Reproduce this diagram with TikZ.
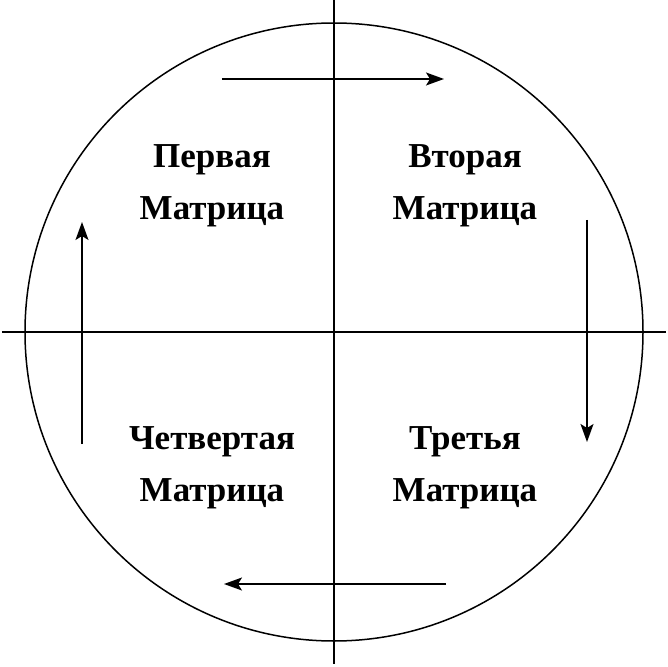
\documentclass[tikz,border=0pt]{standalone}
\usepackage{fontspec}
\setmainfont{Liberation Serif}
\usetikzlibrary{arrows.meta}
\begin{document}
\begin{tikzpicture}[x=1pt,y=1pt,
    axis/.style={line width=1.4pt},
    cycle/.style={line width=1.4pt,-{Stealth[length=18pt,width=13pt,inset=4pt]}},
    matrixlabel/.style={align=center,font=\bfseries\fontsize{35}{52}\selectfont}]
      \useasboundingbox (-334,-334) rectangle (334,332);
      \node (zero) at (0,0) {};
      \draw[line width=1.5pt] (0,0) circle (309);

      %%%%%%%%%%%%%%%%%%%%%%%%%%%%%%%%%%%%%%%%%%%%%%%%%%%%%%%%%%%%%%%%%%%%%%%%%%%
      %%%%  Axes
      \coordinate (north) at (0,332);
      \coordinate (south) at (0,-332);
      \coordinate (west) at (-332,0);
      \coordinate (east) at (332,0);
      \draw[axis] (north) -- (south);
      \draw[axis] (west) -- (east);

      %%%%%%%%%%%%%%%%%%%%%%%%%%%%%%%%%%%%%%%%%%%%%%%%%%%%%%%%%%%%%%%%%%%%%%%%%%%
      %%%%  Arrows, clockwise
      \coordinate (topstart) at (-112,253);
      \coordinate (topend) at (110,253);
      \coordinate (rightstart) at (253,112);
      \coordinate (rightend) at (253,-110);
      \coordinate (botstart) at (112,-252);
      \coordinate (botend) at (-110,-252);
      \coordinate (leftstart) at (-252,-112);
      \coordinate (leftend) at (-252,110);
      \foreach \a in {top,right,bot,left}
       {\draw[cycle] (\a start) -- (\a end);};

      %%%%%%%%%%%%%%%%%%%%%%%%%%%%%%%%%%%%%%%%%%%%%%%%%%%%%%%%%%%%%%%%%%%%%%%%%%%
      %%%%  Labels
      \node[matrixlabel] (first) at (-122,146) {Первая\\Матрица};
      \node[matrixlabel] (second) at (131,146) {Вторая\\Матрица};
      \node[matrixlabel] (third) at (131,-136) {Третья\\Матрица};
      \node[matrixlabel] (fourth) at (-122,-136) {Четвертая\\Матрица};
    \end{tikzpicture}
\end{document}
